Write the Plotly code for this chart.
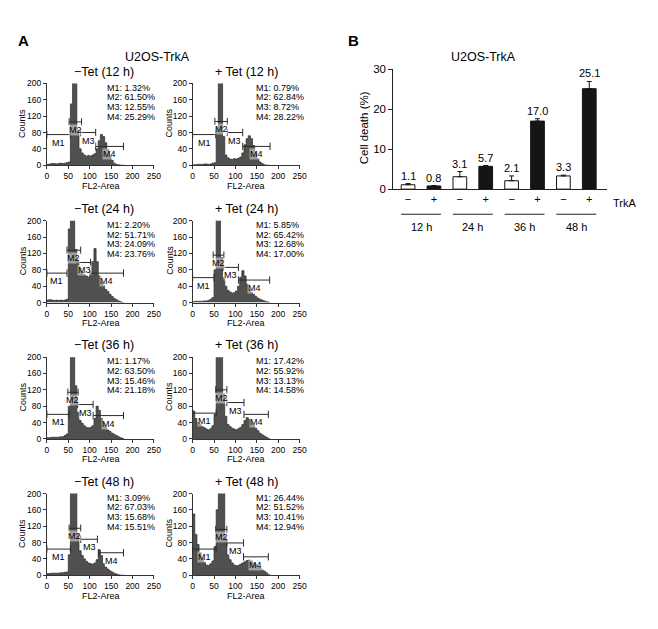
import plotly.graph_objects as go

W, H = 658, 629
FONT = "Liberation Sans, Arial, Helvetica, sans-serif"

# ---------------- Panel A data ----------------
bin_edges = list(range(0, 185, 5))          # FL2-Area bin edges 0..180
x_ticks_A = [0, 50, 100, 150, 200, 250]
y_ticks_A = [0, 40, 80, 120, 160, 200]
gate_names = ["M1", "M2", "M3", "M4"]
time_labels = ["12 h", "24 h", "36 h", "48 h"]

cnt_minus_12h = [2, 3, 4, 4, 3, 4, 5, 4, 5, 6, 8, 150, 260, 250, 85, 40, 30, 25, 22, 24, 22, 25, 28, 40, 60, 75, 70, 55, 38, 22, 12, 5, 2, 1, 0, 0]
cnt_plus_12h = [1, 1, 2, 2, 2, 3, 3, 2, 3, 5, 6, 90, 250, 240, 70, 25, 18, 15, 14, 16, 15, 17, 20, 30, 50, 65, 72, 65, 48, 30, 16, 8, 4, 1, 0, 0]
cnt_minus_24h = [6, 7, 6, 5, 6, 5, 6, 5, 6, 8, 180, 260, 240, 130, 100, 85, 75, 68, 65, 62, 70, 100, 132, 100, 65, 50, 42, 32, 27, 20, 15, 10, 7, 4, 2, 0]
cnt_plus_24h = [2, 3, 3, 3, 3, 4, 4, 5, 8, 12, 80, 260, 240, 110, 60, 40, 30, 26, 23, 24, 28, 40, 62, 78, 65, 45, 32, 25, 20, 15, 11, 8, 6, 4, 2, 1]
cnt_minus_36h = [3, 3, 4, 4, 4, 4, 5, 5, 8, 12, 80, 240, 260, 130, 65, 45, 38, 32, 28, 27, 28, 32, 50, 80, 70, 50, 38, 28, 22, 18, 14, 11, 8, 5, 3, 1]
cnt_plus_36h = [68, 50, 40, 35, 30, 27, 24, 22, 25, 32, 60, 220, 270, 250, 110, 55, 35, 30, 26, 24, 22, 25, 28, 35, 45, 52, 48, 40, 33, 26, 20, 14, 10, 7, 4, 1]
cnt_minus_48h = [4, 4, 5, 5, 5, 5, 6, 6, 7, 8, 50, 230, 270, 260, 100, 60, 48, 40, 34, 30, 28, 27, 30, 38, 62, 48, 28, 20, 15, 11, 8, 5, 3, 1, 0, 0]
cnt_plus_48h = [150, 100, 75, 55, 42, 32, 25, 24, 28, 35, 70, 160, 230, 260, 210, 90, 50, 38, 30, 25, 23, 24, 27, 30, 33, 36, 37, 35, 30, 26, 22, 18, 13, 10, 6, 2]

pct_minus_12h = [1.32, 61.50, 12.55, 25.29]
pct_plus_12h = [0.79, 62.84, 8.72, 28.22]
pct_minus_24h = [2.20, 51.71, 24.09, 23.76]
pct_plus_24h = [5.85, 65.42, 12.68, 17.00]
pct_minus_36h = [1.17, 63.50, 15.46, 21.18]
pct_plus_36h = [17.42, 55.92, 13.13, 14.58]
pct_minus_48h = [3.09, 67.03, 15.68, 15.51]
pct_plus_48h = [26.44, 51.52, 10.41, 12.94]

# gate (start, end, marker level in counts)
gates_minus_12h = [[0, 55, 75], [52, 81, 106], [79, 114, 80], [114, 179, 46]]
gates_plus_12h = [[0, 54, 75], [52, 81, 107], [81, 117, 80], [117, 181, 46]]
gates_minus_24h = [[0, 47, 72], [47, 79, 128], [72, 102, 98], [101, 179, 72]]
gates_plus_24h = [[0, 50, 61], [48, 73, 116], [71, 107, 86], [107, 180, 55]]
gates_minus_36h = [[0, 52, 60], [49, 73, 114], [72, 108, 84], [108, 179, 57]]
gates_plus_36h = [[0, 55, 63], [54, 80, 120], [80, 120, 89], [120, 177, 60]]
gates_minus_48h = [[0, 55, 64], [52, 79, 115], [79, 118, 88], [121, 179, 55]]
gates_plus_48h = [[0, 55, 64], [54, 80, 112], [80, 119, 79], [119, 177, 45]]

# ---------------- Panel B data ----------------
trka_labels = ["−", "+", "−", "+", "−", "+", "−", "+"]
cell_death = [1.1, 0.8, 3.1, 5.7, 2.1, 17.0, 3.3, 25.1]
cell_death_err = [0.3, 0.1, 1.3, 0.2, 1.2, 0.6, 0.2, 1.8]
y_ticks_B = [0, 10, 20, 30]

# ---------------- layout geometry (pixels) ----------------
def fx(px):
    return px / W

def fy(py):
    return 1 - py / H

col_x = [(45.5, 154.0), (193.3, 301.7)]
row_top = [79, 219, 358, 497]
row_h = 83.3

panels = [
    (cnt_minus_12h, pct_minus_12h, gates_minus_12h, 0, 0),
    (cnt_plus_12h, pct_plus_12h, gates_plus_12h, 0, 1),
    (cnt_minus_24h, pct_minus_24h, gates_minus_24h, 1, 0),
    (cnt_plus_24h, pct_plus_24h, gates_plus_24h, 1, 1),
    (cnt_minus_36h, pct_minus_36h, gates_minus_36h, 2, 0),
    (cnt_plus_36h, pct_plus_36h, gates_plus_36h, 2, 1),
    (cnt_minus_48h, pct_minus_48h, gates_minus_48h, 3, 0),
    (cnt_plus_48h, pct_plus_48h, gates_plus_48h, 3, 1),
]

fig = go.Figure()
layout = dict(
    width=W, height=H, autosize=False,
    margin=dict(l=0, r=0, t=0, b=0),
    paper_bgcolor="white", plot_bgcolor="white",
    showlegend=False,
    font=dict(family=FONT, color="black"),
)
annotations = []
shapes = []

AX = "#333333"
for i, (cnt, pct, gates, r, c) in enumerate(panels):
    n = i + 1
    xa = "xaxis" if n == 1 else f"xaxis{n}"
    ya = "yaxis" if n == 1 else f"yaxis{n}"
    xr = "x" if n == 1 else f"x{n}"
    yr = "y" if n == 1 else f"y{n}"
    x0, x1 = col_x[c]
    top = row_top[r]
    bot = top + row_h
    layout[xa] = dict(domain=[fx(x0), fx(x1)], range=[0, 250], anchor=yr,
                      tickvals=x_ticks_A, ticks="outside", ticklen=3, tickcolor=AX,
                      showline=True, linecolor=AX, linewidth=1, showgrid=False,
                      zeroline=False, tickfont=dict(size=8.5, family=FONT), fixedrange=True)
    layout[ya] = dict(domain=[fy(bot), fy(top)], range=[0, 200], anchor=xr,
                      tickvals=y_ticks_A, ticks="outside", ticklen=3, tickcolor=AX,
                      showline=True, linecolor=AX, linewidth=1, showgrid=False,
                      zeroline=False, tickfont=dict(size=8.5, family=FONT), fixedrange=True)
    fig.add_trace(go.Scatter(
        x=bin_edges, y=cnt + [cnt[-1]], mode="lines", line_shape="hv",
        fill="tozeroy", fillcolor="#505050", line=dict(color="#2a2a2a", width=0.7),
        xaxis=xr, yaxis=yr, hoverinfo="skip"))
    # gates
    for g, (ga, gb, lv) in enumerate(gates):
        shapes.append(dict(type="line", xref=xr, yref=yr, x0=ga, x1=gb, y0=lv, y1=lv,
                           line=dict(color="#2a2a2a", width=1)))
        for xe in (ga, gb):
            shapes.append(dict(type="line", xref=xr, yref=yr, x0=xe, x1=xe, y0=lv - 9, y1=lv + 9,
                               line=dict(color="#2a2a2a", width=1)))
        annotations.append(dict(xref=xr, yref=yr, x=(ga + gb) / 2, y=lv, yshift=-8,
                                text=gate_names[g], showarrow=False,
                                font=dict(size=9, family=FONT, color="black"),
                                bgcolor="rgba(255,255,255,0.45)", borderpad=0))
    # stats text
    sx = 104 if c == 0 else 256
    for k in range(4):
        annotations.append(dict(xref="paper", yref="paper", x=fx(sx), y=fy(top + 4.3 + 9.8 * k),
                                xanchor="left", yanchor="middle", showarrow=False,
                                text=f"{gate_names[k]}: {pct[k]:.2f}%",
                                font=dict(size=9, family=FONT)))
    # panel title
    tx = 103 if c == 0 else 248
    ttl = ("−Tet " if c == 0 else "+ Tet ") + f"({time_labels[r]})"
    annotations.append(dict(xref="paper", yref="paper", x=fx(tx), y=fy(top - 12),
                            xanchor="center", yanchor="middle", showarrow=False,
                            text=ttl, font=dict(size=12.5, family=FONT)))
    # axis titles
    annotations.append(dict(xref="paper", yref="paper", x=fx(100 if c == 0 else 247.5), y=fy(bot + 21),
                            xanchor="center", yanchor="middle", showarrow=False,
                            text="FL2-Area", font=dict(size=9, family=FONT)))
    annotations.append(dict(xref="paper", yref="paper", x=fx(21 if c == 0 else 169.5), y=fy(top + 40.5),
                            xanchor="center", yanchor="middle", showarrow=False, textangle=-90,
                            text="Counts", font=dict(size=9, family=FONT)))

# ---------------- Panel B ----------------
bx0, bx1 = 396.7, 613
by_top, by_bot = 64.3, 186.7
pos = list(range(len(cell_death)))
layout["xaxis9"] = dict(domain=[fx(bx0), fx(bx1)], range=[-0.571, 7.67], anchor="y9",
                        tickvals=pos, ticktext=trka_labels, ticks="", showline=True,
                        linecolor="#222", linewidth=1, showgrid=False, zeroline=False,
                        tickfont=dict(size=11, family=FONT), fixedrange=True)
layout["yaxis9"] = dict(domain=[fy(by_bot), fy(by_top)], range=[0, 30], anchor="x9",
                        tickvals=y_ticks_B, ticks="outside", ticklen=4, tickcolor="#222",
                        showline=True, linecolor="#222", linewidth=1, showgrid=False,
                        zeroline=False, tickfont=dict(size=11.5, family=FONT), fixedrange=True)
fig.add_trace(go.Bar(
    x=pos, y=cell_death, width=0.53, xaxis="x9", yaxis="y9",
    marker=dict(color=["white" if k % 2 == 0 else "#151515" for k in pos],
                line=dict(color="#151515", width=1)),
    error_y=dict(type="data", array=cell_death_err, arrayminus=[0] * len(pos), symmetric=False,
                 color="#151515", thickness=1, width=2.5),
    hoverinfo="skip"))
for k in pos:
    annotations.append(dict(xref="x9", yref="y9", x=k, y=cell_death[k] + cell_death_err[k],
                            yanchor="bottom", yshift=0, showarrow=False,
                            text=f"{cell_death[k]:.1f}", font=dict(size=11, family=FONT)))
# group underlines and labels
for gi, lab in enumerate(time_labels):
    a = 2 * gi
    shapes.append(dict(type="line", xref="x9", yref="paper", x0=a - 0.27, x1=a + 1 + 0.27,
                       y0=fy(212.3), y1=fy(212.3), line=dict(color="#222", width=1)))
    annotations.append(dict(xref="x9", yref="paper", x=a + 0.5, y=fy(225.5),
                            xanchor="center", yanchor="middle", showarrow=False,
                            text=lab, font=dict(size=11, family=FONT)))
annotations.append(dict(xref="paper", yref="paper", x=fx(631), y=fy(200.5), xanchor="center",
                        yanchor="middle", showarrow=False, text="TrkA", font=dict(size=11, family=FONT)))
annotations.append(dict(xref="paper", yref="paper", x=fx(366.7), y=fy(124), xanchor="center",
                        yanchor="middle", showarrow=False, textangle=-90, text="Cell death (%)",
                        font=dict(size=11.5, family=FONT)))
annotations.append(dict(xref="paper", yref="paper", x=fx(488), y=fy(51.7), xanchor="center",
                        yanchor="middle", showarrow=False, text="U2OS-TrkA", font=dict(size=12.5, family=FONT)))
annotations.append(dict(xref="paper", yref="paper", x=fx(158), y=fy(51.7), xanchor="center",
                        yanchor="middle", showarrow=False, text="U2OS-TrkA", font=dict(size=12.5, family=FONT)))
annotations.append(dict(xref="paper", yref="paper", x=fx(22), y=fy(35), xanchor="center",
                        yanchor="middle", showarrow=False, text="<b>A</b>", font=dict(size=15, family=FONT)))
annotations.append(dict(xref="paper", yref="paper", x=fx(356), y=fy(35), xanchor="center",
                        yanchor="middle", showarrow=False, text="<b>B</b>", font=dict(size=15, family=FONT)))

layout["annotations"] = annotations
layout["shapes"] = shapes
fig.update_layout(**layout)
fig.write_html("out.html", config={"displayModeBar": False},
               post_script="document.body.style.margin='0';document.body.style.overflow='hidden';")
